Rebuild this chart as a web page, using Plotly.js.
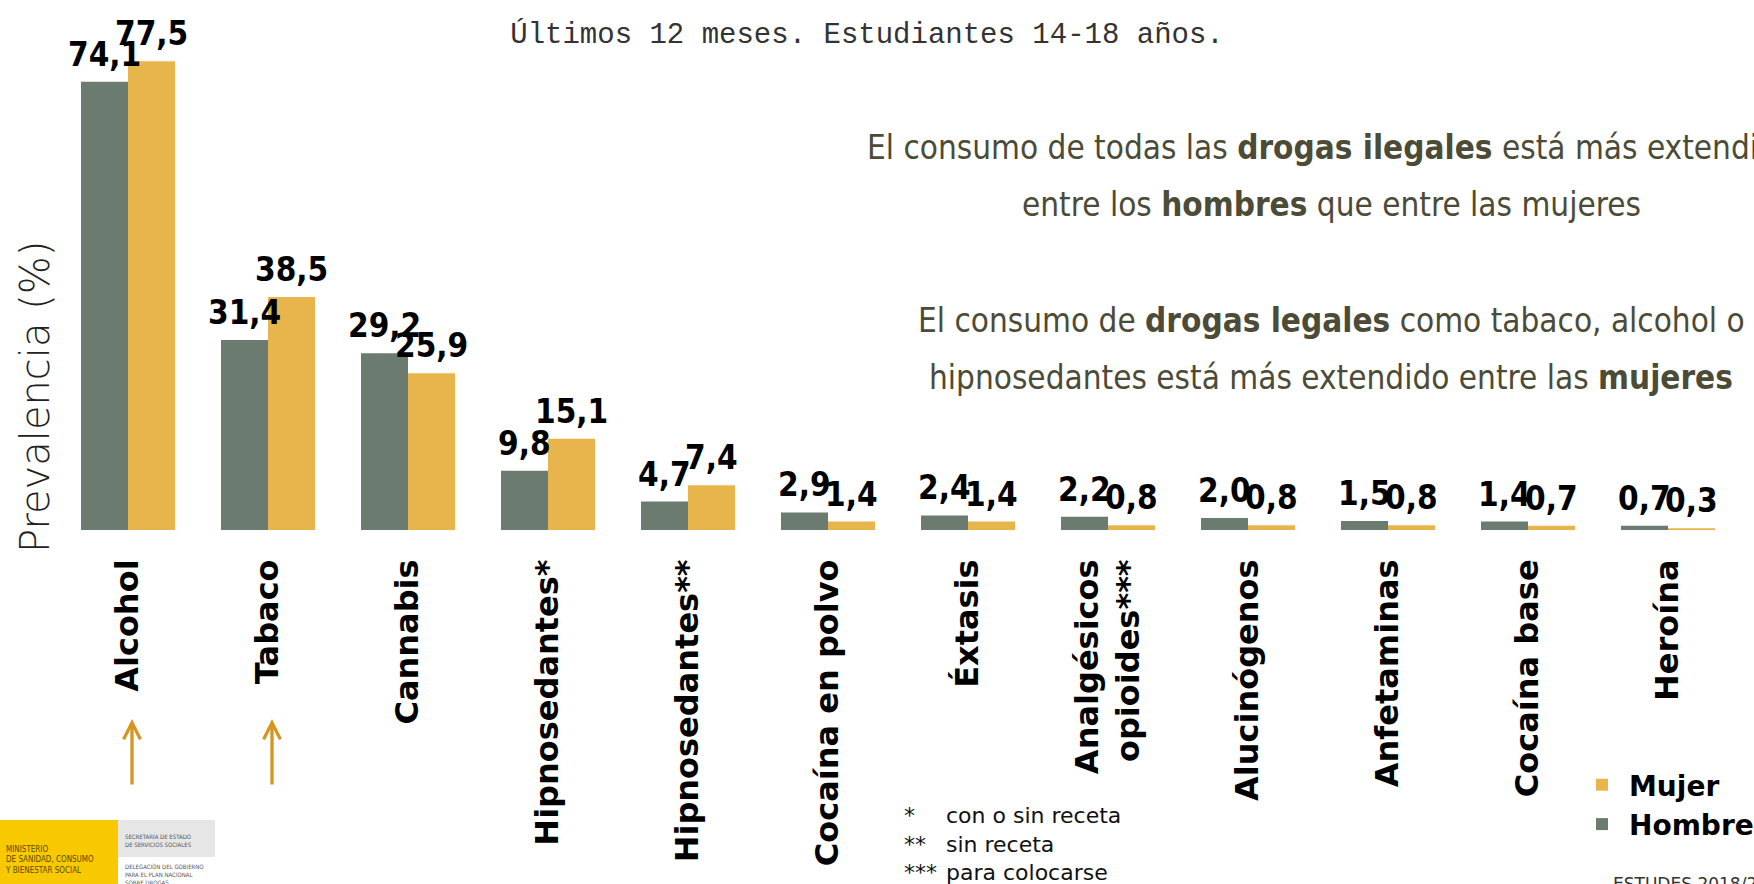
<!DOCTYPE html>
<html>
<head>
<meta charset="utf-8">
<script src="https://cdn.plot.ly/plotly-3.0.1.min.js"></script>
<style>
html,body{margin:0;padding:0;background:#fff;}
#chart{width:1754px;height:884px;}
</style>
</head>
<body>
<div id="chart"></div>
<script>
// ---- data ----
const categories = ['Alcohol','Tabaco','Cannabis','Hipnosedantes*','Hipnosedantes**','Cocaína en polvo','Éxtasis','Analgésicos<br>opioides***','Alucinógenos','Anfetaminas','Cocaína base','Heroína'];
const hombre = [74.1, 31.4, 29.2, 9.8, 4.7, 2.9, 2.4, 2.2, 2.0, 1.5, 1.4, 0.7];
const mujer  = [77.5, 38.5, 25.9, 15.1, 7.4, 1.4, 1.4, 0.8, 0.8, 0.8, 0.7, 0.3];
const seriesNames = ['Hombre','Mujer'];
const arrowCats = ['Alcohol','Tabaco'];
const subtitle = 'Últimos 12 meses. Estudiantes 14-18 años.';
const yTitle = 'Prevalencia (%)';
const noteLines = [
  'El consumo de todas las <b>drogas ilegales</b> está más extendido',
  'entre los <b>hombres</b> que entre las mujeres',
  'El consumo de <b>drogas legales</b> como tabaco, alcohol o',
  'hipnosedantes está más extendido entre las <b>mujeres</b>'
];
const footMarks = ['*','**','***'];
const footTexts = ['con o sin receta','sin receta','para colocarse'];
const source = 'ESTUDES 2018/2019';

// ---- layout geometry (pixels) ----
const W = 1754, H = 884;
const M = {l:58, r:16, t:46, b:354, autoexpand:false};
const PW = W - M.l - M.r, PH = H - M.t - M.b;
const px = x => (x - M.l) / PW;          // pixel x -> paper
const py = y => (H - M.b - y) / PH;      // pixel y -> paper

const colH = '#6b7b70', colM = '#e8b54c';
const fmt = v => v.toFixed(1).replace('.', ',');
const valFont = {family:'DejaVu Sans Condensed, DejaVu Sans, sans-serif', size:33, color:'#000', weight:700};
const noteColor = '#4b4b37';

const traces = [
  {type:'bar', name:seriesNames[0], x:categories, y:hombre, marker:{color:colH}, hoverinfo:'none'},
  {type:'bar', name:seriesNames[1], x:categories, y:mujer, marker:{color:colM}, hoverinfo:'none'}
];

const annotations = [];
categories.forEach((c, i) => {
  annotations.push({x:c, y:hombre[i], xref:'x', yref:'y', text:fmt(hombre[i]), showarrow:false,
    xanchor:'center', yanchor:'bottom', xshift:-23.5, yshift:6, font:valFont});
  annotations.push({x:c, y:mujer[i], xref:'x', yref:'y', text:fmt(mujer[i]), showarrow:false,
    xanchor:'center', yanchor:'bottom', xshift:23.5, yshift:6, font:valFont});
});
arrowCats.forEach(c => {
  annotations.push({x:c, xref:'x', y:py(719), yref:'paper', text:'', showarrow:true,
    ax:0, ay:67, arrowcolor:'#d4961e', arrowwidth:3.3, arrowhead:5, arrowsize:1, standoff:0, xshift:4});
});
// y axis title placed as rotated text where the reference shows it
annotations.push({x:px(35), y:py(397), xref:'paper', yref:'paper', text:yTitle, textangle:-90, showarrow:false,
  xanchor:'center', yanchor:'middle',
  font:{family:'DejaVu Sans, sans-serif', size:40, color:'#222', weight:300}});
const noteY = [147, 205, 320, 377];
noteLines.forEach((t, i) => {
  annotations.push({x:px(1331), y:py(noteY[i]), xref:'paper', yref:'paper', text:t, showarrow:false,
    xanchor:'center', yanchor:'middle',
    font:{family:'DejaVu Sans Condensed, DejaVu Sans, sans-serif', size:33, color:noteColor}});
});
const footFont = {family:'DejaVu Sans, sans-serif', size:22, color:'#111'};
annotations.push({x:px(902), y:py(801), xref:'paper', yref:'paper', text:footMarks.join('<br>'), showarrow:false,
  xanchor:'left', yanchor:'top', align:'left', font:footFont});
annotations.push({x:px(944), y:py(801), xref:'paper', yref:'paper', text:footTexts.join('<br>'), showarrow:false,
  xanchor:'left', yanchor:'top', align:'left', font:footFont});
annotations.push({x:px(1611), y:py(872), xref:'paper', yref:'paper', text:source, showarrow:false,
  xanchor:'left', yanchor:'top', font:{family:'DejaVu Sans, sans-serif', size:17, color:'#333'}});
// logo texts
annotations.push({x:px(3), y:py(860), xref:'paper', yref:'paper', text:'MINISTERIO<br>DE SANIDAD, CONSUMO<br>Y BIENESTAR SOCIAL',
  showarrow:false, xanchor:'left', yanchor:'middle', align:'left', font:{family:'DejaVu Sans Condensed, DejaVu Sans, sans-serif', size:8, color:'#5a4a00'}});
annotations.push({x:px(123), y:py(840), xref:'paper', yref:'paper', text:'SECRETARÍA DE ESTADO<br>DE SERVICIOS SOCIALES',
  showarrow:false, xanchor:'left', yanchor:'middle', align:'left', font:{family:'DejaVu Sans Condensed, DejaVu Sans, sans-serif', size:6, color:'#555'}});
annotations.push({x:px(123), y:py(861), xref:'paper', yref:'paper', text:'DELEGACIÓN DEL GOBIERNO<br>PARA EL PLAN NACIONAL<br>SOBRE DROGAS',
  showarrow:false, xanchor:'left', yanchor:'top', align:'left', font:{family:'DejaVu Sans Condensed, DejaVu Sans, sans-serif', size:6, color:'#555'}});

const shapes = [
  {type:'rect', xref:'paper', yref:'paper', x0:px(0), x1:px(118), y0:py(820), y1:py(884), fillcolor:'#f8c800', line:{width:0}},
  {type:'rect', xref:'paper', yref:'paper', x0:px(118), x1:px(215), y0:py(820), y1:py(857), fillcolor:'#e6e6e6', line:{width:0}}
];

const layout = {
  width:W, height:H,
  margin:M,
  paper_bgcolor:'#fff', plot_bgcolor:'#fff',
  barmode:'group', bargap:0.3286, bargroupgap:0,
  showlegend:true,
  legend:{xref:'container', yref:'container', x:1575/W, y:1-760/H, xanchor:'left', yanchor:'top',
    traceorder:'reversed', itemwidth:44, font:{family:'DejaVu Sans, sans-serif', size:28, color:'#000', weight:700},
    bgcolor:'rgba(0,0,0,0)', borderwidth:0},
  title:{text:subtitle, xref:'container', yref:'container', x:867/W, xanchor:'center', y:1-33/H, yanchor:'middle',
    font:{family:'Liberation Mono, Courier New, monospace', size:29, color:'#333'}},
  xaxis:{type:'category', tickangle:-90, ticks:'', ticklabelstandoff:22, showline:false, showgrid:false, zeroline:false,
    tickfont:{family:'DejaVu Sans, sans-serif', size:32, color:'#000', weight:700}, fixedrange:true},
  yaxis:{range:[0,80], showticklabels:false, showgrid:false, zeroline:false, showline:false, ticks:'', fixedrange:true},
  annotations:annotations,
  shapes:shapes
};

Plotly.newPlot('chart', traces, layout, {displayModeBar:false, staticPlot:true});
</script>
</body>
</html>
